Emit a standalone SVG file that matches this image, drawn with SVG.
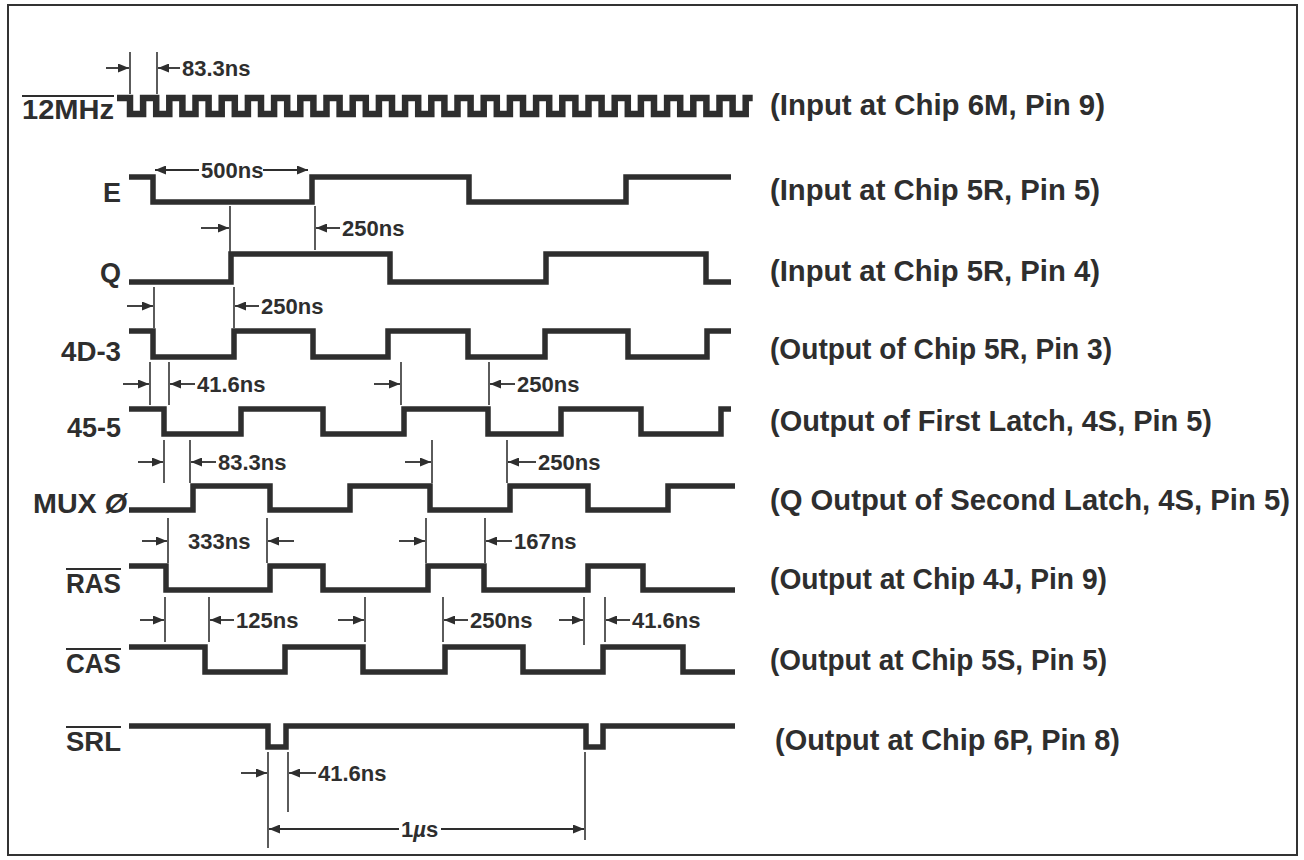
<svg xmlns="http://www.w3.org/2000/svg" width="1304" height="860" viewBox="0 0 1304 860">
<defs>
<marker id="ah" markerUnits="userSpaceOnUse" markerWidth="11" markerHeight="9" refX="11" refY="4.5" orient="auto">
<path d="M0,0 L11,4.5 L0,9 z" fill="#2e2e2e"/>
</marker>
<style>
.w{fill:none;stroke:#2e2e2e;stroke-width:5.5;stroke-linejoin:miter;stroke-linecap:butt}
.clk{fill:none;stroke:#2e2e2e;stroke-width:6.5;stroke-linejoin:miter;stroke-linecap:butt}
.t{stroke:#333;stroke-width:1.6;fill:none}
.a{stroke:#2e2e2e;stroke-width:1.8;fill:none;marker-end:url(#ah)}
.lbl{font-family:"Liberation Sans",Arial,sans-serif;font-weight:bold;font-size:27px;fill:#2e2e2e;text-anchor:end}
.ann{font-family:"Liberation Sans",Arial,sans-serif;font-weight:bold;font-size:22px;fill:#2e2e2e}
.desc{font-family:"Liberation Sans",Arial,sans-serif;font-weight:bold;font-size:29px;fill:#2e2e2e}
.ol{stroke:#2e2e2e;stroke-width:2.2}
</style>
</defs>
<rect x="0" y="0" width="1304" height="860" fill="#fff"/>
<rect x="8" y="5" width="1289" height="850" fill="none" stroke="#333" stroke-width="2"/>

<g id="sig-12mhz">
<text class="lbl" x="114" y="119" textLength="92" lengthAdjust="spacingAndGlyphs">12MHz</text>
<line class="ol" x1="22" y1="96" x2="114" y2="96"/>
<path class="clk" d="M117,98 H130
v16h13.1v-16h13.1 v16h13.1v-16h13.1 v16h13.1v-16h13.1 v16h13.1v-16h13.1
v16h13.1v-16h13.1 v16h13.1v-16h13.1 v16h13.1v-16h13.1 v16h13.1v-16h13.1
v16h13.1v-16h13.1 v16h13.1v-16h13.1 v16h13.1v-16h13.1 v16h13.1v-16h13.1
v16h13.1v-16h13.1 v16h13.1v-16h13.1 v16h13.1v-16h13.1 v16h13.1v-16h13.1
v16h13.1v-16h13.1 v16h13.1v-16h13.1 v16h13.1v-16h13.1 v16h13.1v-16h13.1
v16h13.1v-16h13.1 v16h13.1v-16h13.1 v16h13.1v-16h13.1 v16h13.1v-16h7"/>
<text class="desc" x="770" y="115" textLength="335" lengthAdjust="spacingAndGlyphs">(Input at Chip 6M, Pin 9)</text>
</g>

<g id="sig-e">
<text class="lbl" x="121" y="202">E</text>
<path class="w" d="M129,177 H153 V202 H312 V177 H469 V202 H626 V177 H731"/>
<text class="desc" x="770" y="200" textLength="330" lengthAdjust="spacingAndGlyphs">(Input at Chip 5R, Pin 5)</text>
</g>

<g id="sig-q">
<text class="lbl" x="121" y="282">Q</text>
<path class="w" d="M129,282 H231 V254 H390 V282 H546 V254 H706 V282 H731"/>
<text class="desc" x="770" y="281" textLength="330" lengthAdjust="spacingAndGlyphs">(Input at Chip 5R, Pin 4)</text>
</g>

<g id="sig-4d3">
<text class="lbl" x="121" y="361" textLength="60" lengthAdjust="spacingAndGlyphs">4D-3</text>
<path class="w" d="M129,331 H153 V357 H234 V331 H313 V357 H388 V331 H468 V357 H545 V331 H628 V357 H707 V331 H731"/>
<text class="desc" x="770" y="359" textLength="342" lengthAdjust="spacingAndGlyphs">(Output of Chip 5R, Pin 3)</text>
</g>

<g id="sig-455">
<text class="lbl" x="121" y="437" textLength="54" lengthAdjust="spacingAndGlyphs">45-5</text>
<path class="w" d="M129,409 H164 V434 H241 V409 H323 V434 H404 V409 H488 V434 H561 V409 H641 V434 H721 V409 H731"/>
<text class="desc" x="770" y="431" textLength="442" lengthAdjust="spacingAndGlyphs">(Output of First Latch, 4S, Pin 5)</text>
</g>

<g id="sig-mux">
<text class="lbl" x="127" y="513" textLength="94" lengthAdjust="spacingAndGlyphs">MUX <tspan font-style="italic">Ø</tspan></text>
<path class="w" d="M129,510 H193 V486 H270 V510 H350 V486 H430 V510 H510 V486 H588 V510 H668 V486 H735"/>
<text class="desc" x="770" y="510" textLength="520" lengthAdjust="spacingAndGlyphs">(Q Output of Second Latch, 4S, Pin 5)</text>
</g>

<g id="sig-ras">
<text class="lbl" x="121" y="593" textLength="55" lengthAdjust="spacingAndGlyphs">RAS</text>
<line class="ol" x1="66" y1="569" x2="121" y2="569"/>
<path class="w" d="M129,566 H166 V590 H270 V566 H323 V590 H428 V566 H484 V590 H588 V566 H643 V590 H735"/>
<text class="desc" x="770" y="589" textLength="337" lengthAdjust="spacingAndGlyphs">(Output at Chip 4J, Pin 9)</text>
</g>

<g id="sig-cas">
<text class="lbl" x="121" y="673" textLength="55" lengthAdjust="spacingAndGlyphs">CAS</text>
<line class="ol" x1="66" y1="649" x2="121" y2="649"/>
<path class="w" d="M129,647 H205 V672 H285 V647 H363 V672 H445 V647 H523 V672 H603 V647 H683 V672 H735"/>
<text class="desc" x="770" y="670" textLength="337" lengthAdjust="spacingAndGlyphs">(Output at Chip 5S, Pin 5)</text>
</g>

<g id="sig-srl">
<text class="lbl" x="121" y="751" textLength="55" lengthAdjust="spacingAndGlyphs">SRL</text>
<line class="ol" x1="66" y1="727" x2="121" y2="727"/>
<path class="w" d="M129,726 H268 V747 H286 V726 H586 V747 H603 V726 H735"/>
<text class="desc" x="775" y="750" textLength="345" lengthAdjust="spacingAndGlyphs">(Output at Chip 6P, Pin 8)</text>
</g>

<g id="connectors">
<line class="t" x1="130" y1="52" x2="130" y2="94"/>
<line class="t" x1="157" y1="52" x2="157" y2="94"/>
<line class="a" x1="106" y1="68" x2="129" y2="68"/>
<line class="a" x1="180" y1="68" x2="158" y2="68"/>
<text class="ann" x="182" y="76">83.3ns</text>
<line class="a" x1="199" y1="170" x2="155" y2="170"/>
<line class="a" x1="263" y1="170" x2="308" y2="170"/>
<text class="ann" x="201" y="178">500ns</text>
<line class="t" x1="230" y1="206" x2="230" y2="252"/>
<line class="t" x1="315" y1="206" x2="315" y2="250"/>
<line class="a" x1="201" y1="228" x2="229" y2="228"/>
<line class="a" x1="340" y1="228" x2="316" y2="228"/>
<text class="ann" x="342" y="236">250ns</text>
<line class="t" x1="154" y1="287" x2="154" y2="328"/>
<line class="t" x1="234" y1="287" x2="234" y2="328"/>
<line class="a" x1="127" y1="306" x2="153" y2="306"/>
<line class="a" x1="259" y1="306" x2="235" y2="306"/>
<text class="ann" x="261" y="314">250ns</text>
<line class="t" x1="150" y1="362" x2="150" y2="405"/>
<line class="t" x1="169" y1="362" x2="169" y2="405"/>
<line class="a" x1="123" y1="384" x2="149" y2="384"/>
<line class="a" x1="195" y1="384" x2="170" y2="384"/>
<text class="ann" x="197" y="392">41.6ns</text>
<line class="t" x1="401" y1="362" x2="401" y2="405"/>
<line class="t" x1="489" y1="362" x2="489" y2="405"/>
<line class="a" x1="374" y1="384" x2="400" y2="384"/>
<line class="a" x1="515" y1="384" x2="490" y2="384"/>
<text class="ann" x="517" y="392">250ns</text>
<line class="t" x1="164" y1="440" x2="164" y2="483"/>
<line class="t" x1="190" y1="440" x2="190" y2="483"/>
<line class="a" x1="138" y1="462" x2="163" y2="462"/>
<line class="a" x1="216" y1="462" x2="191" y2="462"/>
<text class="ann" x="218" y="470">83.3ns</text>
<line class="t" x1="432" y1="440" x2="432" y2="483"/>
<line class="t" x1="507" y1="440" x2="507" y2="483"/>
<line class="a" x1="405" y1="462" x2="431" y2="462"/>
<line class="a" x1="536" y1="462" x2="508" y2="462"/>
<text class="ann" x="538" y="470">250ns</text>
<line class="t" x1="168" y1="518" x2="168" y2="563"/>
<line class="t" x1="267" y1="518" x2="267" y2="563"/>
<line class="a" x1="142" y1="541" x2="167" y2="541"/>
<line class="a" x1="294" y1="541" x2="268" y2="541"/>
<text class="ann" x="188" y="549">333ns</text>
<line class="t" x1="426" y1="518" x2="426" y2="563"/>
<line class="t" x1="485" y1="518" x2="485" y2="563"/>
<line class="a" x1="399" y1="541" x2="425" y2="541"/>
<line class="a" x1="512" y1="541" x2="486" y2="541"/>
<text class="ann" x="514" y="549">167ns</text>
<line class="t" x1="165" y1="597" x2="165" y2="642"/>
<line class="t" x1="209" y1="597" x2="209" y2="642"/>
<line class="a" x1="140" y1="620" x2="164" y2="620"/>
<line class="a" x1="234" y1="620" x2="210" y2="620"/>
<text class="ann" x="236" y="628">125ns</text>
<line class="t" x1="365" y1="597" x2="365" y2="642"/>
<line class="t" x1="443" y1="597" x2="443" y2="642"/>
<line class="a" x1="338" y1="620" x2="364" y2="620"/>
<line class="a" x1="468" y1="620" x2="444" y2="620"/>
<text class="ann" x="470" y="628">250ns</text>
<line class="t" x1="584" y1="597" x2="584" y2="645"/>
<line class="t" x1="605" y1="597" x2="605" y2="642"/>
<line class="a" x1="559" y1="620" x2="583" y2="620"/>
<line class="a" x1="630" y1="620" x2="606" y2="620"/>
<text class="ann" x="632" y="628">41.6ns</text>
<line class="t" x1="268" y1="752" x2="268" y2="848"/>
<line class="t" x1="288" y1="752" x2="288" y2="812"/>
<line class="a" x1="241" y1="773" x2="267" y2="773"/>
<line class="a" x1="316" y1="773" x2="289" y2="773"/>
<text class="ann" x="318" y="781">41.6ns</text>
<line class="t" x1="585" y1="752" x2="585" y2="840"/>
<line class="a" x1="399" y1="829" x2="269" y2="829"/>
<line class="a" x1="441" y1="829" x2="584" y2="829"/>
<text class="ann" x="401" y="837">1<tspan font-style="italic">µ</tspan>s</text>
</g>
</svg>
